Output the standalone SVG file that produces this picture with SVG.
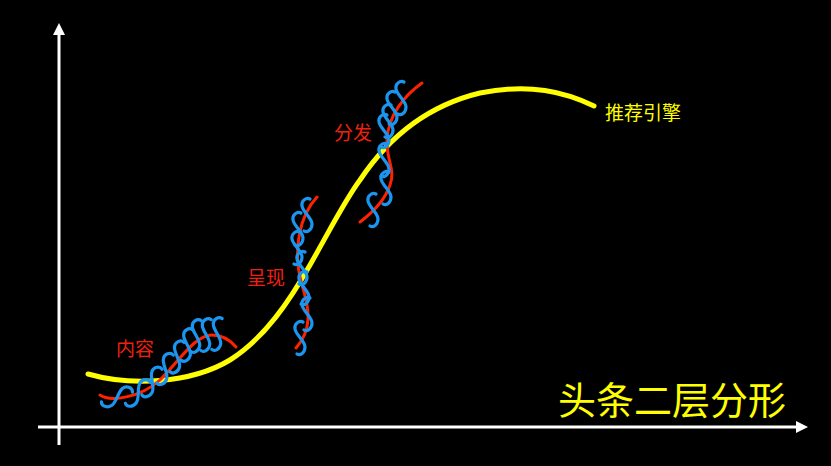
<svg xmlns="http://www.w3.org/2000/svg" width="831" height="466" viewBox="0 0 831 466">
<style>
.ax{stroke:#fff;stroke-width:3;fill:none}
.yl{stroke:#ffff00;stroke-width:5;fill:none;stroke-linecap:round}
.rd{stroke:#ff2200;stroke-width:3;fill:none;stroke-linecap:round}
.bl{stroke:#1a96f0;stroke-width:3.2;fill:none;stroke-linecap:round}
.rt{fill:#f02010;font-family:"Noto Sans CJK SC","Noto Sans",sans-serif;font-size:19px}
.yt{fill:#ffff00;font-family:"Noto Sans CJK SC","Noto Sans",sans-serif}
</style>
<defs>
<path id="s" class="bl" d="M3,-16 C-1,-18 -6,-14 -5,-9 C-4,-3 5,3 5,9 C5,15 0,18 -3,16"/>
</defs>
<rect width="831" height="466" fill="#000"/>
<g id="axes">
<line class="ax" x1="59" y1="445" x2="59" y2="33"/>
<polygon points="59,23 53,35 65,35" fill="#fff"/>
<line class="ax" x1="38" y1="427" x2="797" y2="427"/>
<polygon points="808,427 796,421 796,433" fill="#fff"/>
</g>
<g id="connectors">
<path class="yl" d="M88,374 C130,386 190,384 230,360 C265,338 290,300 310,265 C330,230 345,200 360,180 C390,135 430,105 480,93 C530,83 565,92 594,106"/>
</g>
<g id="node-neirong">
<path class="rd" d="M100,395 C110,402 140,398 160,380 C180,360 195,335 212,335 C222,335 230,340 236,347"/>
<use href="#s" transform="translate(117,397) rotate(62)"/>
<use href="#s" transform="translate(138,393) rotate(40)"/>
<use href="#s" transform="translate(152,382) rotate(28)"/>
<use href="#s" transform="translate(165,369) rotate(20)"/>
<use href="#s" transform="translate(177,357) rotate(15)"/>
<use href="#s" transform="translate(187,345) rotate(10)"/>
<use href="#s" transform="translate(196,336) rotate(8)"/>
<use href="#s" transform="translate(206,335) rotate(8)"/>
<use href="#s" transform="translate(217,334) rotate(8)"/>
<text class="rt" x="116" y="356">内容</text>
</g>
<g id="node-chengxian">
<path class="rd" d="M317,197 C300,215 292,250 302,285 C310,310 312,330 296,348"/>
<use href="#s" transform="translate(307,215)"/>
<use href="#s" transform="translate(298,229)"/>
<use href="#s" transform="translate(297,248)"/>
<use href="#s" transform="translate(302,268)"/>
<use href="#s" transform="translate(304,288)"/>
<use href="#s" transform="translate(307,314)"/>
<use href="#s" transform="translate(300,338)"/>
<text class="rt" x="247" y="285">呈现</text>
</g>
<g id="node-fenfa">
<path class="rd" d="M422,83 C405,95 388,115 387,140 C386,160 396,170 390,185 C385,200 372,213 360,222"/>
<use href="#s" transform="translate(401,98)"/>
<use href="#s" transform="translate(392,108)"/>
<use href="#s" transform="translate(388,121)"/>
<use href="#s" transform="translate(384,131)"/>
<use href="#s" transform="translate(384,160)"/>
<use href="#s" transform="translate(386,188)"/>
<use href="#s" transform="translate(373,210)"/>
<text class="rt" x="334" y="140">分发</text>
</g>
<g id="node-tuijian">
<text class="yt" x="605" y="120" font-size="19">推荐引擎</text>
</g>
<g id="node-title">
<text class="yt" x="558" y="414" font-size="38">头条二层分形</text>
</g>
</svg>
